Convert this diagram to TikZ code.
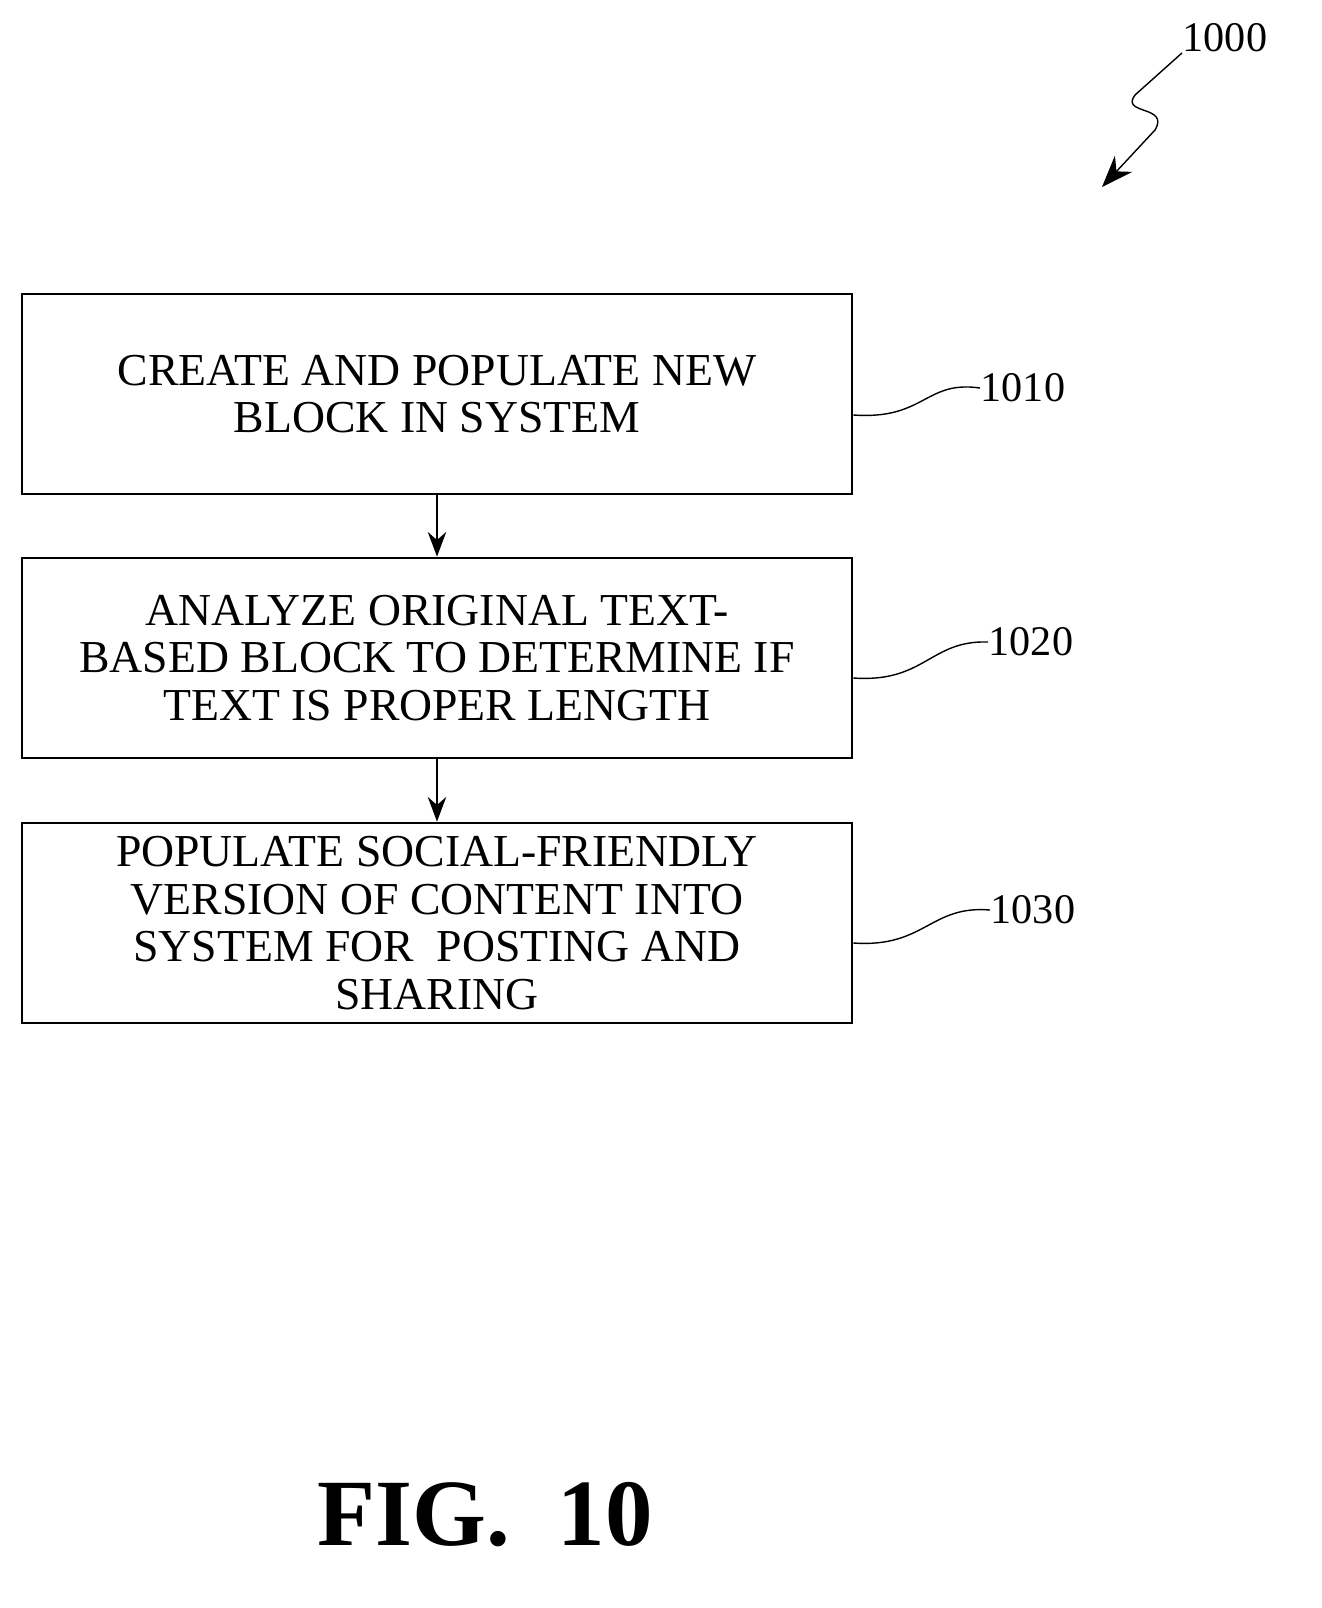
\documentclass[tikz,border=0pt]{standalone}
\usepackage{fontspec}
\setmainfont{Liberation Serif}
\usetikzlibrary{arrows.meta}
\begin{document}
\begin{tikzpicture}[x=0.01cm,y=-0.01cm]
        \tikzstyle{stepbox}=[draw, thick, minimum width=830*0.01cm, minimum height=200*0.01cm, align=center, font=\fontsize{13}{13.5}\selectfont, inner sep=0pt]
        \tikzstyle{ref}=[font=\fontsize{12}{14}\selectfont, anchor=west, inner sep=0pt]
        \useasboundingbox (0,0) rectangle (1322,1608);
        \node [stepbox] (b1) at (437,394) {CREATE AND POPULATE NEW\\BLOCK IN SYSTEM};
        \node [stepbox] (b2) at (437,658) {ANALYZE ORIGINAL TEXT-\\BASED BLOCK TO DETERMINE IF\\TEXT IS PROPER LENGTH};
        \node [stepbox] (b3) at (437,923) {POPULATE SOCIAL-FRIENDLY\\VERSION OF CONTENT INTO\\SYSTEM FOR\ \ POSTING AND\\SHARING};
        \draw [-{Stealth[length=7pt]}] (b1) -- (b2);
        \draw [-{Stealth[length=7pt]}] (b2) -- (b3);
        \node [ref] (l1) at (980,388) {1010};
        \node [ref] (l2) at (988,642) {1020};
        \node [ref] (l3) at (990,910) {1030};
        \draw (b1.east |- 0,415) .. controls (925,420) and (925,380) .. (l1.west);
        \draw (b2.east |- 0,678) .. controls (925,683) and (930,640) .. (l2.west);
        \draw (b3.east |- 0,943) .. controls (925,948) and (930,905) .. (l3.west);
        \node [ref] (l0) at (1182,38) {1000};
        \coordinate (t0) at (1102,187);
        \draw [-{Stealth[length=9pt]}] (l0.south west) -- (1135,95) .. controls (1120,115) and (1170,105) .. (1155,130) -- (t0);
        \node [font=\fontsize{27}{30}\bfseries\selectfont] (fig) at (485,1515) {FIG.\ \ 10};
\end{tikzpicture}
\end{document}
